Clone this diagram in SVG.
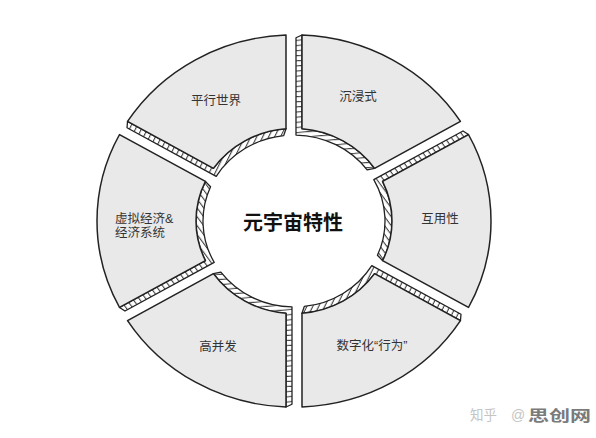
<svg xmlns="http://www.w3.org/2000/svg" xmlns:xlink="http://www.w3.org/1999/xlink" width="596" height="438" viewBox="0 0 596 438">
  <defs>
    <pattern id="hatch" patternUnits="userSpaceOnUse" width="5.4" height="5.4" patternTransform="rotate(-35)">
      <rect width="5.4" height="5.4" fill="#ffffff"/>
      <line x1="1.2" y1="0" x2="1.2" y2="5.4" stroke="#2a2a2a" stroke-width="1"/>
    </pattern>
    <g id="seg">
      <path class="band" d="M174.47,-91.49 L169.0,-95.26 L79.79,-43.76 A91,91 0 0 1 83.45,36.28 L88.58,41.91 A98,98 0 0 0 88.58,-41.91 Z"/>
      <path class="face" d="M88.58,-41.91 L174.47,-91.49 A197,197 0 0 1 174.47,91.49 L88.58,41.91 A98,98 0 0 0 88.58,-41.91 Z"/>
    </g>
  </defs>
  <style>
    .band { fill: url(#hatch); stroke: #222; stroke-width: 1.3; stroke-linejoin: round; }
    .face { fill: #e9e9e9; stroke: #222; stroke-width: 1.5; stroke-linejoin: round; }
    .lbl { font-family: "Liberation Sans", "Noto Sans CJK SC", sans-serif; font-size: 12.5px; fill: #333; }
    .mid { text-anchor: middle; }
    .title { font-family: "Noto Sans CJK SC", "Liberation Sans", sans-serif; font-size: 20px; font-weight: bold; fill: #111; text-anchor: middle; }
  </style>
  <rect width="596" height="438" fill="#ffffff"/>

  <g id="node-interop">
    <use href="#seg" transform="translate(294,221) scale(1,0.945)"/>
    <text class="lbl mid" x="440" y="222.5">互用性</text>
  </g>
  <g id="node-immersive">
    <use href="#seg" transform="translate(294,221) scale(1,0.945) rotate(-60)"/>
    <text class="lbl mid" x="358" y="100.5">沉浸式</text>
  </g>
  <g id="node-parallel">
    <use href="#seg" transform="translate(294,221) scale(1,0.945) rotate(-120)"/>
    <text class="lbl mid" x="216" y="104.5">平行世界</text>
  </g>
  <g id="node-economy">
    <use href="#seg" transform="translate(294,221) scale(1,0.945) rotate(180)"/>
    <text class="lbl" x="115" y="222.5">虚拟经济&amp;</text>
    <text class="lbl" x="115" y="236.5">经济系统</text>
  </g>
  <g id="node-concurrency">
    <use href="#seg" transform="translate(294,221) scale(1,0.945) rotate(120)"/>
    <text class="lbl mid" x="218" y="350.5">高并发</text>
  </g>
  <g id="node-digital">
    <use href="#seg" transform="translate(294,221) scale(1,0.945) rotate(60)"/>
    <text class="lbl mid" x="372" y="349.5">数字化“行为”</text>
  </g>
  <g id="node-center">
    <text class="title" x="293" y="229.5">元宇宙特性</text>
  </g>
  <g id="connectors"/>
  <g id="watermark" font-family="Noto Sans CJK SC, sans-serif">
    <text x="470" y="420" font-size="13.5" fill="#c4c4c4">知乎</text>
    <text x="511" y="420" font-size="14" fill="#c4c4c4" font-family="Liberation Sans, sans-serif">@</text>
    <text x="528" y="421" font-size="15" font-weight="bold" fill="#7a7a7a" textLength="63" lengthAdjust="spacingAndGlyphs">思创网</text>
  </g>
</svg>
